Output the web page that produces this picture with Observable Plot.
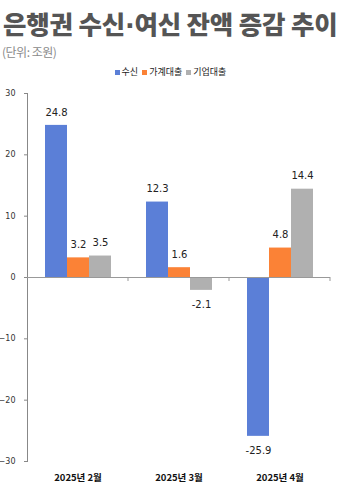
<!DOCTYPE html>
<html><head><meta charset="utf-8">
<script src="https://cdn.jsdelivr.net/npm/d3@7"></script>
<script src="https://cdn.jsdelivr.net/npm/@observablehq/plot@0.6"></script>
<style>
body{margin:0;background:#fff;font-family:"Noto Sans CJK KR",sans-serif;width:352px;}
#head{position:relative;height:82px;}
#title{position:absolute;left:3px;top:24px;transform:translateY(-50%);font-weight:900;font-size:25.5px;color:#555;line-height:30px;letter-spacing:-0.2px;white-space:nowrap;}
#title .dot{font-family:"DejaVu Sans",sans-serif;font-weight:700;}
#sub{position:absolute;left:2px;top:52px;transform:translateY(-50%);font-size:12px;color:#8a8a8a;line-height:14px;letter-spacing:-0.5px;}
#legend{position:absolute;left:0;right:0;top:72px;transform:translateY(-50%);display:flex;justify-content:center;gap:4px;font-size:9px;color:#222;line-height:12px;margin-left:-11px;}
#legend span{display:flex;align-items:center;}
#legend i{display:inline-block;width:5px;height:5px;margin-right:2px;}
</style></head><body>
<div id="head">
<div id="title">은행권 수신<span class="dot">·</span>여신 잔액 증감 추이</div>
<div id="sub">(단위: 조원)</div>
<div id="legend"></div>
</div>
<div id="chart"></div>
<script>
const months = ["2025년 2월", "2025년 3월", "2025년 4월"];
const seriesNames = ["수신", "가계대출", "기업대출"];
const colors = ["#5B7FD7", "#FB8236", "#B0B0B0"];
const deposit = [24.8, 12.3, -25.9];
const household = [3.2, 1.6, 4.8];
const corporate = [3.5, -2.1, 14.4];
const yTicks = [-30, -20, -10, 0, 10, 20, 30];

const valuesBySeries = [deposit, household, corporate];
const data = [];
months.forEach((m, i) => seriesNames.forEach((s, j) => data.push({month: m, series: s, value: valuesBySeries[j][i]})));
const pos = data.filter(d => d.value >= 0);
const neg = data.filter(d => d.value < 0);

const leg = document.getElementById("legend");
seriesNames.forEach((s, j) => {
  const sp = document.createElement("span");
  sp.innerHTML = `<i style="background:${colors[j]}"></i>${s}`;
  leg.appendChild(sp);
});

const plot = Plot.plot({
  width: 352, height: 411,
  marginTop: 11, marginBottom: 32, marginLeft: 26, marginRight: 22,
  style: {fontFamily: "DejaVu Sans, sans-serif", fontSize: "8px", color: "#333", background: "#fff"},
  fx: {domain: months, padding: 0, label: null, axis: null},
  x: {domain: seriesNames, paddingInner: 0, paddingOuter: 0.76, axis: null},
  y: {domain: [-30, 30], ticks: yTicks, label: null},
  color: {domain: seriesNames, range: colors},
  marks: [
    Plot.axisY({ticks: yTicks, tickSize: 3, tickPadding: 9, stroke: "#888", fill: "#333", fontSize: 8, label: null}),
    Plot.axisFx({anchor: "bottom", tickSize: 0, tickPadding: 13, label: null, fontWeight: "bold", fontSize: 9.5, fill: "#111", fontFamily: "Noto Sans CJK KR, sans-serif"}),
    Plot.frame({anchor: "left", facetAnchor: "left", stroke: "#888"}),
    Plot.barY(data, {fx: "month", x: "series", y: "value", fill: "series"}),
    Plot.ruleY([0], {stroke: "#999"}),
    Plot.text(pos, {fx: "month", x: "series", y: "value", text: d => d.value.toFixed(1), dy: -13, fontSize: 10, fill: "#222"}),
    Plot.text(neg, {fx: "month", x: "series", y: "value", text: d => d.value.toFixed(1), dy: 14, fontSize: 10, fill: "#222"})
  ]
});
document.getElementById("chart").appendChild(plot);

// boundary ticks on the zero line between groups
const fx = plot.scale("fx"), y = plot.scale("y");
const svg = d3.select(plot);
const y0 = y.apply(0);
months.forEach(m => {
  const xr = fx.apply(m) + fx.bandwidth;
  svg.append("line").attr("x1", xr).attr("x2", xr).attr("y1", y0).attr("y2", y0 + 4).attr("stroke", "#999");
});
</script>
</body></html>
